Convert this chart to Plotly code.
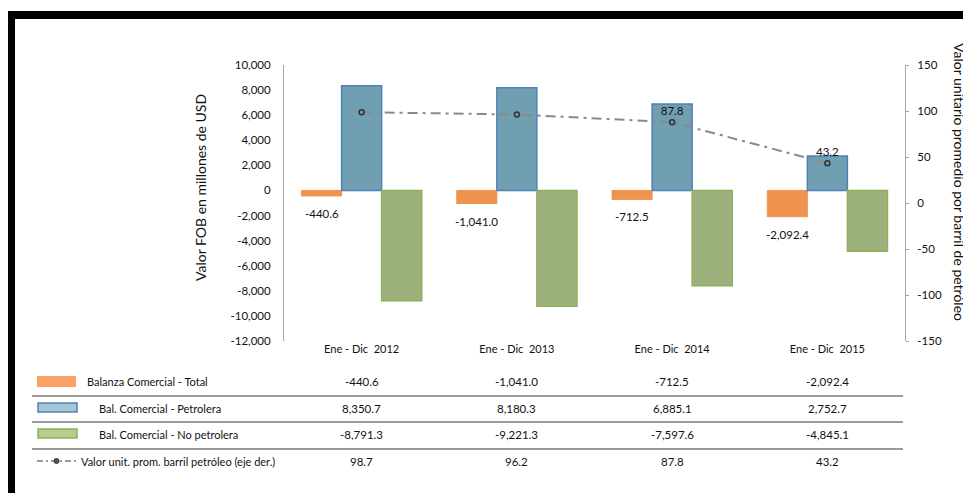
import plotly.graph_objects as go

# ---------------- data ----------------
categories = ["Ene - Dic  2012", "Ene - Dic  2013", "Ene - Dic  2014", "Ene - Dic  2015"]
total = [-440.6, -1041.0, -712.5, -2092.4]
petrolera = [8350.7, 8180.3, 6885.1, 2752.7]
no_petrolera = [-8791.3, -9221.3, -7597.6, -4845.1]
valor_barril = [98.7, 96.2, 87.8, 43.2]
barril_label_shown = [False, False, True, True]

series_names = [
    "Balanza Comercial - Total",
    "Bal. Comercial - Petrolera",
    "Bal. Comercial - No petrolera",
    "Valor unit. prom. barril petróleo (eje der.)",
]
left_ticks = [10000, 8000, 6000, 4000, 2000, 0, -2000, -4000, -6000, -8000, -10000, -12000]
right_ticks = [150, 100, 50, 0, -50, -100, -150]

# ---------------- styling ----------------
W, H = 971, 493
OFF = 8  # page offset of the figure (body margin)
ML, MT = 276, 57
PW, PH = 621, 276
MR, MB = W - ML - PW, H - MT - PH
FONT = "Lato, Liberation Sans, sans-serif"
TXT = "#111111"
NUM = 11.5
WORD = 11
TITLE = 14
BARGAP = 0.226
BAR_W = PW / len(categories) * (1 - BARGAP) / 3  # pixel width of one bar

ORANGE = "#F0934E"
ORANGE_L = "#F9A466"
BLUE = "#6F9FB1"
BLUE_L = "#A3C7D4"
BLUE_EDGE = "#4F81BD"
GREEN = "#9DB17D"
GREEN_L = "#B7CD90"
GREEN_EDGE = "#8DB158"


def px(x):
    """page pixel x -> paper coordinate"""
    return (x - OFF - ML) / PW


def py(y):
    """page pixel y -> paper coordinate"""
    return (MT + PH - (y - OFF)) / PH


def fmt(v, dec=1):
    s = f"{abs(v):,.{dec}f}"
    return ("-" if v < 0 else "") + s


fig = go.Figure()

fig.add_trace(go.Bar(
    x=categories, y=total, name=series_names[0],
    marker=dict(color=ORANGE, line=dict(color=ORANGE, width=1)),
))
fig.add_trace(go.Bar(
    x=categories, y=petrolera, name=series_names[1],
    marker=dict(color=BLUE, line=dict(color=BLUE_EDGE, width=1.5)),
))
fig.add_trace(go.Bar(
    x=categories, y=no_petrolera, name=series_names[2],
    marker=dict(color=GREEN, line=dict(color=GREEN_EDGE, width=1.5)),
))
fig.add_trace(go.Scatter(
    x=categories, y=valor_barril, name=series_names[3], yaxis="y2",
    mode="lines+markers+text",
    line=dict(color="#8a8a8a", width=2, dash="10px,5px,3px,5px"),
    marker=dict(symbol="circle-open", size=5, color="#333333", line=dict(width=1.5, color="#333333")),
    text=[fmt(v) if s else "" for v, s in zip(valor_barril, barril_label_shown)],
    textposition="top center",
    textfont=dict(family=FONT, size=NUM, color=TXT), cliponaxis=False,
))

fig.update_layout(
    width=W, height=H,
    margin=dict(l=ML, r=MR, t=MT, b=MB, autoexpand=False),
    paper_bgcolor="white", plot_bgcolor="white",
    showlegend=False,
    barmode="group", bargap=BARGAP, bargroupgap=0,
    font=dict(family=FONT, size=12, color=TXT),
    xaxis=dict(showline=False, showgrid=False, ticks="", zeroline=False,
               tickfont=dict(family=FONT, size=WORD, color=TXT)),
    yaxis=dict(range=[-12000, 10000], tickvals=left_ticks,
               ticktext=[fmt(v, 0) for v in left_ticks],
               showgrid=False, zeroline=False, showline=True, linecolor="#a6a6a6", linewidth=1,
               ticks="", ticklabelstandoff=10,
               tickfont=dict(family=FONT, size=NUM, color=TXT)),
    yaxis2=dict(range=[-150, 150], tickvals=right_ticks,
                ticktext=[fmt(v, 0) for v in right_ticks],
                overlaying="y", side="right", showgrid=False, zeroline=False,
                showline=True, linecolor="#a6a6a6", linewidth=1,
                ticks="outside", ticklen=3, tickcolor="#a6a6a6", ticklabelstandoff=6,
                tickfont=dict(family=FONT, size=NUM, color=TXT)),
)

shapes = []
annotations = []

# labels under the orange (total) bars
for c, v in zip(categories, total):
    annotations.append(dict(xref="x", yref="y", x=c, y=v, text=fmt(v),
                            xanchor="center", yanchor="top", xshift=-BAR_W, yshift=-9,
                            showarrow=False, font=dict(family=FONT, size=NUM, color=TXT)))

# axis titles
annotations.append(dict(xref="paper", yref="paper", x=px(200), y=py(188),
                        xanchor="center", yanchor="middle",
                        text="Valor FOB en millones de USD", textangle=-90, showarrow=False,
                        font=dict(family=FONT, size=TITLE, color=TXT)))
annotations.append(dict(xref="paper", yref="paper", x=px(960), y=py(182),
                        xanchor="center", yanchor="middle",
                        text="Valor unitario promedio por barril de petróleo", textangle=90,
                        showarrow=False, font=dict(family=FONT, size=TITLE, color=TXT)))

# data table below the chart
rows_y = [381, 408, 434, 461]
row_values = [total, petrolera, no_petrolera, valor_barril]
for ry, vals in zip(rows_y, row_values):
    for c, v in zip(categories, vals):
        annotations.append(dict(xref="x", yref="paper", x=c, y=py(ry), text=fmt(v),
                                xanchor="center", yanchor="middle",
                                showarrow=False, font=dict(family=FONT, size=NUM, color=TXT)))

label_x = [85, 97, 97, 79]
for ry, lx, name in zip(rows_y, label_x, series_names):
    annotations.append(dict(xref="paper", yref="paper", x=px(lx), y=py(ry), text=name,
                            xanchor="left", yanchor="middle", showarrow=False,
                            font=dict(family=FONT, size=WORD, color=TXT)))

for sy in [396, 422, 449]:
    shapes.append(dict(type="line", xref="paper", yref="paper", x0=px(32), x1=px(903),
                       y0=py(sy), y1=py(sy), line=dict(color="#9a9a9a", width=2)))

# legend symbols
shapes.append(dict(type="rect", xref="paper", yref="paper", x0=px(37), x1=px(76),
                   y0=py(387), y1=py(376), fillcolor=ORANGE_L, line=dict(width=0)))
shapes.append(dict(type="rect", xref="paper", yref="paper", x0=px(38), x1=px(77),
                   y0=py(412), y1=py(403), fillcolor=BLUE_L, line=dict(color=BLUE_EDGE, width=1.5)))
shapes.append(dict(type="rect", xref="paper", yref="paper", x0=px(38), x1=px(77),
                   y0=py(438), y1=py(429), fillcolor=GREEN_L, line=dict(color=GREEN_EDGE, width=1.5)))
shapes.append(dict(type="line", xref="paper", yref="paper", x0=px(37), x1=px(76),
                   y0=py(461), y1=py(461), line=dict(color="#9a9a9a", width=2, dash="6px,3px,2px,3px")))
shapes.append(dict(type="circle", xref="paper", yref="paper", x0=px(54), x1=px(59),
                   y0=py(463.5), y1=py(458.5), fillcolor="#555555", line=dict(color="#333333", width=1)))

# black frame (top and left)
shapes.append(dict(type="rect", xref="paper", yref="paper", x0=px(7), x1=px(980),
                   y0=py(19), y1=py(11), fillcolor="black", line=dict(width=0)))
shapes.append(dict(type="rect", xref="paper", yref="paper", x0=px(7), x1=px(15),
                   y0=py(505), y1=py(11), fillcolor="black", line=dict(width=0)))

fig.update_layout(shapes=shapes, annotations=annotations)

fig.write_html("out.html")
